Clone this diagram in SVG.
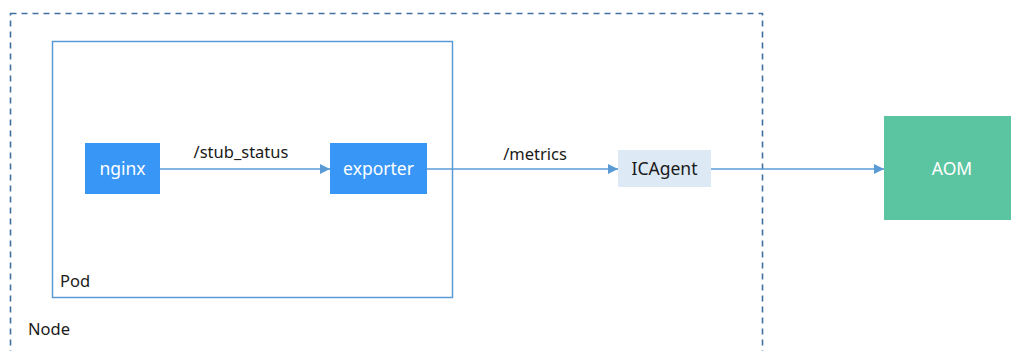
<svg xmlns="http://www.w3.org/2000/svg" width="1011" height="351" viewBox="0 0 1011 351">
<defs>
<style>
.lbl{font-family:"Noto Sans","Open Sans",sans-serif;font-size:16.5px;fill:#1a1a1a}
.nt{font-family:"Noto Sans","Open Sans",sans-serif;font-size:17.5px;fill:#ffffff;text-anchor:middle}
.conn{stroke:#5b9bd5;stroke-width:1.5;fill:none;marker-end:url(#ah)}
</style>
<marker id="ah" viewBox="0 0 10 10" refX="10" refY="5" markerWidth="11" markerHeight="10" markerUnits="userSpaceOnUse" orient="auto">
<path d="M0,0 L10,5 L0,10 z" fill="#5b9bd5"/>
</marker>
</defs>
<rect width="1011" height="351" fill="#ffffff"/>
<g id="node-host">
<rect x="10.5" y="13.5" width="752" height="360" fill="none" stroke="#41709e" stroke-width="1.6" stroke-dasharray="6,5"/>
<text class="lbl" x="28" y="335">Node</text>
</g>
<g id="pod">
<rect x="52.5" y="41.5" width="400" height="256" fill="none" stroke="#5b9bd5" stroke-width="1.5"/>
<text class="lbl" x="60" y="287">Pod</text>
</g>
<g id="nginx">
<rect x="85" y="143" width="75" height="51" fill="#3896f7"/>
<text class="nt" x="122.5" y="175">nginx</text>
</g>
<g id="exporter">
<rect x="330" y="143" width="97" height="51" fill="#3896f7"/>
<text class="nt" x="378.5" y="175">exporter</text>
</g>
<g id="icagent">
<rect x="618" y="150" width="93" height="37" fill="#dde9f5"/>
<text class="nt" x="664.5" y="175" style="fill:#1a1a1a">ICAgent</text>
</g>
<g id="aom">
<rect x="884" y="116" width="127" height="104" fill="#5bc4a0"/>
<text class="nt" x="952" y="175">AOM</text>
</g>
<g id="connectors">
<line class="conn" x1="160" y1="169" x2="330" y2="169"/>
<line class="conn" x1="427" y1="169" x2="618" y2="169"/>
<line class="conn" x1="711" y1="169" x2="884" y2="169"/>
<text class="lbl" x="241" y="158" text-anchor="middle">/stub_status</text>
<text class="lbl" x="535" y="160" text-anchor="middle">/metrics</text>
</g>
</svg>
